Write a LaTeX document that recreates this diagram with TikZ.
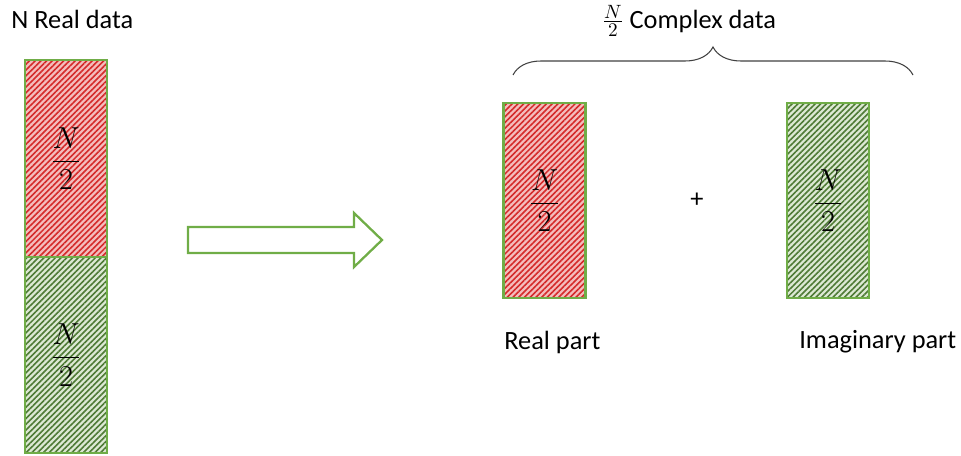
\documentclass[tikz,border=0pt]{standalone}
\usepackage{fontspec}
\setmainfont{Carlito}
\usepackage{amsmath}
\usetikzlibrary{patterns.meta,decorations.pathreplacing}
\definecolor{BoxGreen}{HTML}{70AD47}
\definecolor{HatchRed}{HTML}{D42A2A}
\definecolor{HatchRedBg}{HTML}{F4BDBD}
\definecolor{HatchGreen}{HTML}{4E7A35}
\definecolor{HatchGreenBg}{HTML}{DDE9D4}
\definecolor{BraceGray}{HTML}{404040}

\tikzset{
  half/.style={draw=BoxGreen,line width=1.4pt,minimum width=1.64cm,
    inner sep=0pt,font=\fontsize{16}{18}\selectfont},
  redhalf/.style={half,preaction={fill=HatchRedBg},
    pattern={Lines[angle=45,distance=2.3pt,line width=0.9pt]},
    pattern color=HatchRed},
  greenhalf/.style={half,preaction={fill=HatchGreenBg},
    pattern={Lines[angle=45,distance=2.3pt,line width=0.9pt]},
    pattern color=HatchGreen},
  caption/.style={font=\fontsize{15}{17}\selectfont,text=black,inner sep=0pt}
}

\begin{document}
\begin{tikzpicture}[x=0.02cm,y=-0.02cm]
    \useasboundingbox (0,0) rectangle (961,456);
    % left column
    \node[caption,anchor=west] (realtitle) at (11,19) {N Real data};
    \node[redhalf,minimum height=3.94cm] (leftre) at (66,158.5)
      {$\dfrac{N}{2}$};
    \node[greenhalf,minimum height=3.92cm] (leftim) at (66,355)
      {$\dfrac{N}{2}$};
    % block arrow
    \draw[BoxGreen,line width=1.3pt,line join=miter]
      (188,227) -- (354,227) -- (354,213) -- (382,240)
      -- (354,267) -- (354,253) -- (188,253) -- cycle;
    % right side
    \node[redhalf,minimum height=3.9cm] (rightre) at (544.5,200.5)
      {$\dfrac{N}{2}$};
    \node[greenhalf,minimum height=3.9cm] (rightim) at (828,200.5)
      {$\dfrac{N}{2}$};
    \node[caption] (plus) at (697,200) {+};
    \node[caption,anchor=west] (relabel) at (504,342) {Real part};
    \node[caption,anchor=west] (imlabel) at (799,342) {Imaginary part};
    \coordinate (braceL) at (513,75);
    \coordinate (braceR) at (913,75);
    \draw[BraceGray,line width=0.6pt,decorate,
      decoration={brace,amplitude=0.56cm}] (braceL) -- (braceR);
    \node[caption] (cplxtitle) at (689,21)
      {$\tfrac{N}{2}$ Complex data};
  \end{tikzpicture}
\end{document}
